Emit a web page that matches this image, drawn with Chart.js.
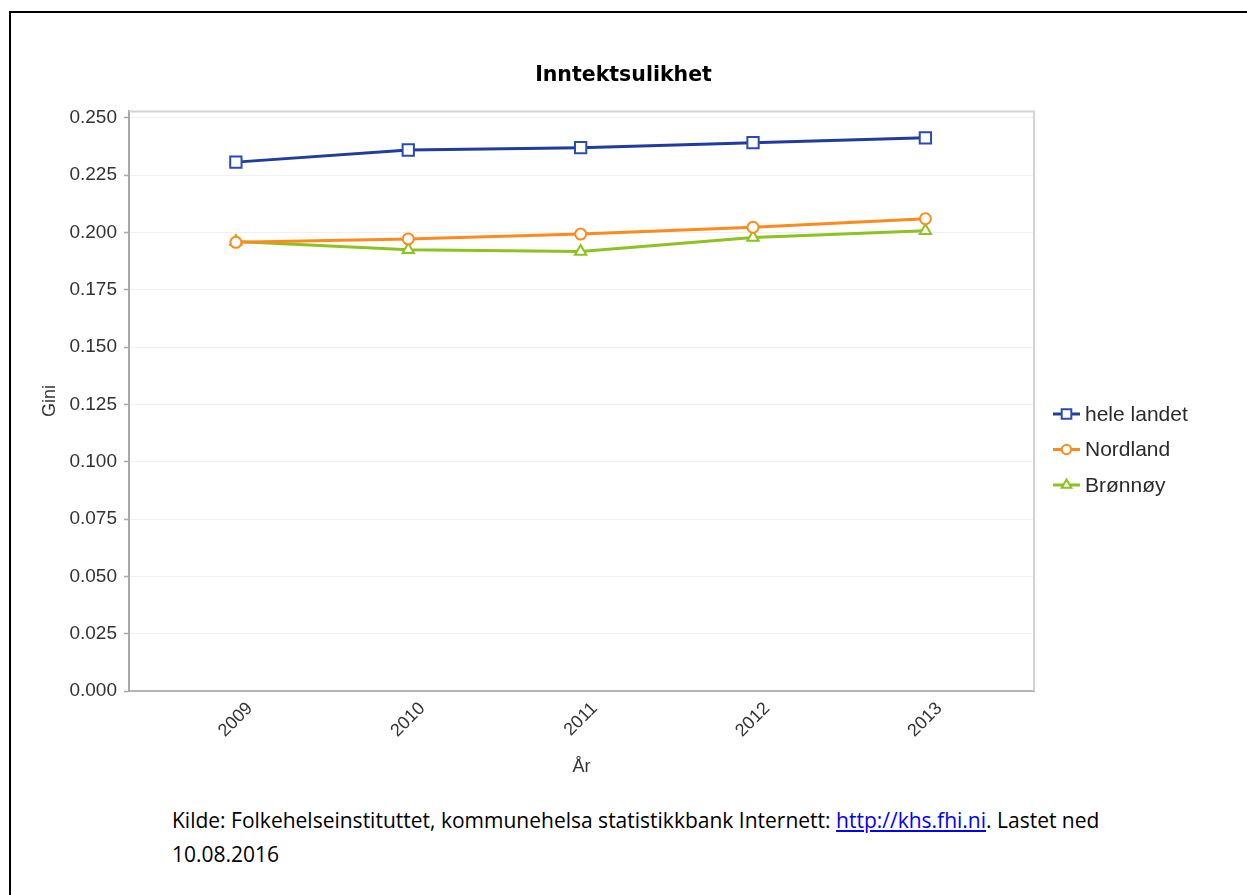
<!DOCTYPE html>
<html>
<head>
<meta charset="utf-8">
<script src="https://cdn.jsdelivr.net/npm/chart.js@4.4.1/dist/chart.umd.min.js"></script>
<style>
html,body{margin:0;padding:0;background:#fff;overflow:hidden;width:1247px;height:895px;}
#frame{position:absolute;left:9px;top:11px;width:1400px;height:1000px;border-left:2px solid #000;border-top:2px solid #000;box-sizing:border-box;}
#wrap{position:absolute;left:0;top:0;width:1247px;height:800px;}
.foot{position:absolute;left:172px;font-family:'Open Sans',Lato,sans-serif;font-size:21px;color:#000;white-space:nowrap;line-height:24px;}
.foot a{color:#0000ff;text-decoration:underline;}
</style>
</head>
<body>
<div id="frame"></div>
<div id="wrap"><canvas id="c"></canvas></div>
<div class="foot" style="top:808px;">Kilde: Folkehelseinstituttet, kommunehelsa statistikkbank Internett: <a href="#">http://khs.fhi.ni</a>. Lastet ned</div>
<div class="foot" style="top:842px;">10.08.2016</div>
<script>
const years = [2009, 2010, 2011, 2012, 2013];
const heleLandet = [0.2307, 0.2360, 0.2370, 0.2392, 0.2413];
const nordland   = [0.1957, 0.1972, 0.1993, 0.2023, 0.2060];
const bronnoy    = [0.1961, 0.1925, 0.1917, 0.1978, 0.2008];
const yTicks = [0, 0.025, 0.05, 0.075, 0.1, 0.125, 0.15, 0.175, 0.2, 0.225, 0.25];
const seriesNames = ['hele landet', 'Nordland', 'Brønnøy'];

const toPts = arr => years.map((y, i) => ({x: y, y: arr[i]}));
const AX_FONT = '"Liberation Sans", Arial, sans-serif';

const plotFrame = {
  id: 'plotFrame',
  beforeDatasetsDraw(chart) {
    const a = chart.chartArea, ctx = chart.ctx;
    ctx.save();
    ctx.strokeStyle = '#d4d4d4';
    ctx.lineWidth = 2;
    ctx.beginPath();
    ctx.moveTo(a.left, a.top + 0.5);
    ctx.lineTo(a.right, a.top + 0.5);
    ctx.lineTo(a.right, a.bottom);
    ctx.stroke();
    ctx.restore();
  }
};

const lineLegend = {
  id: 'lineLegend',
  afterDraw(chart) {
    const a = chart.chartArea, ctx = chart.ctx;
    const x0 = a.right + 19, y0 = a.top + 303, gap = 35.5;
    ctx.save();
    chart.data.datasets.forEach((ds, i) => {
      const y = y0 + i * gap;
      ctx.strokeStyle = ds.borderColor;
      ctx.lineWidth = 3;
      ctx.beginPath();
      ctx.moveTo(x0, y);
      ctx.lineTo(x0 + 27, y);
      ctx.stroke();
      ctx.fillStyle = '#fff';
      ctx.strokeStyle = ds.pointBorderColor;
      ctx.lineWidth = 2;
      Chart.helpers.drawPoint(ctx, {pointStyle: ds.pointStyle, radius: ds.pointRadius * 0.85, rotation: 0, borderWidth: 2}, x0 + 13.5, y);
      ctx.fillStyle = '#2a2a2a';
      ctx.font = '21px ' + AX_FONT;
      ctx.textAlign = 'left';
      ctx.textBaseline = 'middle';
      ctx.fillText(ds.label, x0 + 32, y + 1);
    });
    ctx.restore();
  }
};

new Chart(document.getElementById('c'), {
  type: 'line',
  data: {
    datasets: [
      {label: seriesNames[0], data: toPts(heleLandet), borderColor: '#1f3c9e', backgroundColor: '#ffffff',
       borderWidth: 3, pointStyle: 'rect', pointRadius: 8, pointBorderWidth: 2, pointBackgroundColor: '#fff', pointBorderColor: '#2a4bb0'},
      {label: seriesNames[1], data: toPts(nordland), borderColor: '#ff8a1c', backgroundColor: '#ffffff',
       borderWidth: 3, pointStyle: 'circle', pointRadius: 5.5, pointBorderWidth: 2, pointBackgroundColor: '#fff', pointBorderColor: '#ff8a1c'},
      {label: seriesNames[2], data: toPts(bronnoy), borderColor: '#8dc21f', backgroundColor: '#ffffff',
       borderWidth: 3, pointStyle: 'triangle', pointRadius: 6.5, pointBorderWidth: 2, pointBackgroundColor: '#fff', pointBorderColor: '#8dc21f'}
    ]
  },
  options: {
    responsive: true,
    maintainAspectRatio: false,
    animation: false,
    layout: {padding: 0},
    plugins: {
      legend: {display: false},
      tooltip: {enabled: false},
      title: {
        display: true,
        text: 'Inntektsulikhet',
        color: '#000',
        font: {family: '"DejaVu Sans", sans-serif', size: 20.5, weight: 'bold', lineHeight: 1.2},
        padding: {top: 63, bottom: 23.4}
      }
    },
    scales: {
      x: {
        type: 'linear',
        min: 2008.38,
        max: 2013.63,
        afterBuildTicks: s => { s.ticks = years.map(v => ({value: v})); },
        afterFit: s => { s.height = 109; },
        grid: {display: false, drawTicks: false},
        border: {display: true, color: '#b4b4b4', width: 2},
        ticks: {
          autoSkip: false, maxRotation: 45, minRotation: 45, padding: 7, labelOffset: 14,
          color: '#333', font: {family: AX_FONT, size: 18},
          callback: v => String(v)
        },
        title: {display: true, text: 'År', color: '#333',
          font: {family: AX_FONT, size: 18}, padding: {top: 0, bottom: 22.2}}
      },
      y: {
        min: 0,
        max: 0.253,
        afterBuildTicks: s => { s.ticks = yTicks.map(v => ({value: v})); },
        afterFit: s => { s.width = 129; },
        grid: {color: '#f1f1f1', lineWidth: 1, tickLength: 5, tickColor: '#a8a8a8', tickWidth: 1.5},
        border: {display: true, color: '#a8a8a8', width: 2},
        ticks: {
          padding: 7, color: '#333', font: {family: AX_FONT, size: 19},
          callback: v => Number(v).toFixed(3)
        },
        title: {display: true, text: 'Gini', color: '#333',
          font: {family: AX_FONT, size: 18}, padding: {top: 39.2, bottom: 0}}
      },
      legendSpace: {
        type: 'linear',
        position: 'right',
        display: true,
        afterFit: s => { s.width = 213; },
        grid: {display: false, drawTicks: false},
        border: {display: false},
        ticks: {display: false}
      }
    }
  },
  plugins: [plotFrame, lineLegend]
});
</script>
</body>
</html>
